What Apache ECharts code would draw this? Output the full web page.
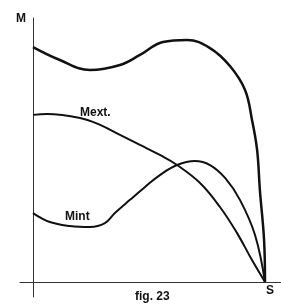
<!DOCTYPE html>
<html>
<head>
<meta charset="utf-8">
<script src="https://cdn.jsdelivr.net/npm/echarts@6/dist/echarts.min.js"></script>
<style>
  html, body { margin: 0; padding: 0; background: #fff; }
  #chart { width: 281px; height: 304px; }
</style>
</head>
<body>
<div id="chart"></div>
<script>
// S (speed) on x, M (torque) on y, both 0..100
const topX  = [0, 11.6, 24.6, 37.5, 46.1, 56, 66.4, 76.3, 84.9, 91.4, 94.4, 96.6, 97.8, 99.6, 100];
const topY  = [89, 84.1, 80.3, 82.2, 86, 90.9, 91.7, 88.6, 81.8, 72.7, 61.4, 50, 34.8, 15.9, 0];
const mextX = [0, 6, 20.3, 28.9, 37.5, 46.1, 54.7, 62.1, 72, 80.6, 87.9, 94.4, 100];
const mextY = [63.3, 63.6, 62.1, 59.5, 55.7, 51.9, 48.1, 44.3, 37.5, 28.4, 18.6, 8.3, 0];
const mintX = [0, 7.3, 15.9, 24.6, 31, 35.3, 41.8, 48.3, 54.7, 62.1, 69.8, 76.3, 82.8, 89.2, 95.7, 100];
const mintY = [26.1, 22.7, 21.2, 20.8, 22.3, 26.1, 31.1, 36, 40.5, 44.3, 45.8, 44.3, 39.4, 31.1, 17.8, 0];

const pairs = (xs, ys) => xs.map((x, i) => [x, ys[i]]);

const font = 'Liberation Sans, Arial, sans-serif';
function label(text, x, y) {
  return {
    type: 'text', left: x, top: y,
    style: { text: text, font: 'bold 12px ' + font, fill: '#111' }
  };
}

function line(data, width) {
  return {
    type: 'line', data: data, smooth: 0.4, symbol: 'none',
    lineStyle: { color: '#111', width: width }
  };
}

const chart = echarts.init(document.getElementById('chart'));
chart.setOption({
  animation: false,
  backgroundColor: '#fff',
  grid: { left: 20, right: 0, top: 18, bottom: 7 },
  xAxis: {
    type: 'value', min: -5.6, max: 106.9,
    axisLine: { onZero: true, lineStyle: { color: '#333', width: 1 } },
    axisTick: { show: false }, axisLabel: { show: false }, splitLine: { show: false }
  },
  yAxis: {
    type: 'value', min: -5.7, max: 100,
    axisLine: { show: true, onZero: true, lineStyle: { color: '#333', width: 1 } },
    axisTick: { show: false }, axisLabel: { show: false }, splitLine: { show: false }
  },
  series: [
    line(pairs(topX, topY), 2.5),
    line(pairs(mextX, mextY), 2),
    line(pairs(mintX, mintY), 2)
  ],
  graphic: [
    label('M', 16, 13),
    label('Mext.', 80, 107),
    label('Mint', 65, 211),
    label('fig. 23', 135, 291),
    label('S', 266, 285)
  ]
});
</script>
</body>
</html>
